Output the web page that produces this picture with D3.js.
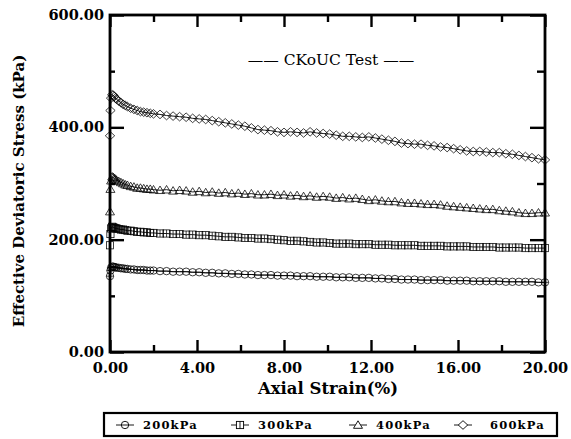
<!DOCTYPE html>
<html>
<head>
<meta charset="utf-8">
<script src="https://cdn.jsdelivr.net/npm/d3@7"></script>
<style>
  body { margin: 0; background: #fff; }
  svg { display: block; }
  .tick-label text { font-family: "DejaVu Serif", serif; font-weight: bold; font-size: 14.5px; fill: #000; }
  .axis-title { font-family: "DejaVu Serif", serif; font-weight: bold; fill: #000; }
</style>
</head>
<body>
<div id="chart"></div>
<script>
// strain (%) sampled along every curve
const strain = [
  0, 0.02, 0.05, 0.1, 0.15, 0.2, 0.25, 0.3, 0.4, 0.5,
  0.6, 0.7, 0.8, 0.95, 1.1, 1.25, 1.4, 1.55, 1.7, 1.85,
  2.0, 2.3, 2.6, 2.9, 3.2, 3.5, 3.8, 4.1, 4.4, 4.7,
  5.0, 5.3, 5.6, 5.9, 6.2, 6.5, 6.8, 7.1, 7.4, 7.7,
  8.0, 8.3, 8.6, 8.9, 9.2, 9.5, 9.8, 10.1, 10.4, 10.7,
  11.0, 11.3, 11.6, 11.9, 12.2, 12.5, 12.8, 13.1, 13.4, 13.7,
  14.0, 14.3, 14.6, 14.9, 15.2, 15.5, 15.8, 16.1, 16.4, 16.7,
  17.0, 17.3, 17.6, 17.9, 18.2, 18.5, 18.8, 19.1, 19.4, 19.7,
  20.0
];

const q200 = [
  135, 145, 150, 152, 152, 151, 151, 150, 150, 149,
  149, 148, 148, 147, 147, 146, 146, 146, 145, 145,
  145, 144, 144, 143, 143, 143, 142, 142, 141, 141,
  140, 140, 139, 139, 138, 138, 137, 137, 137, 136,
  136, 136, 135, 135, 135, 134, 134, 134, 133, 133,
  133, 132, 132, 132, 131, 131, 130, 130, 129, 129,
  129, 128, 128, 128, 128, 127, 127, 127, 127, 126,
  126, 126, 126, 126, 125, 125, 125, 125, 125, 124,
  124
];

const q300 = [
  190, 210, 220, 223, 222, 221, 220, 220, 219, 218,
  218, 217, 216, 216, 215, 214, 214, 213, 213, 212,
  212, 211, 211, 210, 210, 209, 209, 208, 208, 207,
  206, 205, 205, 204, 203, 203, 202, 202, 201, 200,
  199, 198, 198, 197, 196, 195, 195, 194, 193, 193,
  193, 192, 192, 192, 191, 191, 191, 190, 190, 190,
  190, 189, 189, 189, 189, 188, 188, 188, 188, 187,
  187, 187, 187, 186, 186, 186, 186, 185, 185, 185,
  185
];

const q400 = [
  250, 290, 305, 312, 311, 309, 308, 306, 304, 302,
  300, 298, 297, 295, 294, 292, 292, 291, 290, 290,
  289, 288, 289, 287, 288, 287, 285, 286, 284, 285,
  283, 284, 282, 283, 281, 282, 280, 280, 281, 279,
  280, 278, 279, 277, 278, 276, 277, 276, 274, 275,
  273, 274, 272, 270, 271, 269, 268, 268, 266, 265,
  265, 264, 263, 263, 262, 260, 259, 258, 257, 256,
  255, 254, 254, 252, 251, 250, 248, 247, 247, 248,
  248
];

const q600 = [
  385, 430, 452, 458, 457, 455, 452, 450, 447, 444,
  441, 439, 437, 434, 432, 430, 428, 427, 426, 425,
  424, 423, 421, 420, 419, 418, 416, 415, 414, 412,
  410, 408, 406, 404, 402, 399, 396, 395, 394, 392,
  391, 392, 391, 390, 392, 390, 389, 388, 386, 384,
  384, 383, 382, 383, 381, 379, 377, 375, 372, 371,
  370, 370, 368, 367, 365, 364, 362, 360, 358, 357,
  357, 356, 355, 355, 353, 352, 350, 348, 346, 344,
  342
];

const seriesNames = ['200kPa', '300kPa', '400kPa', '600kPa'];
const seriesValues = [q200, q300, q400, q600];
const seriesSymbols = ['circle', 'square', 'triangle', 'diamond'];

const xMajorTicks = [0, 4, 8, 12, 16, 20];
const xMinorTicks = [2, 6, 10, 14, 18];
const yMajorTicks = [0, 200, 400, 600];
const yMinorTicks = [100, 300, 500];

const width = 571, height = 439;
const margin = {top: 15, right: 26, bottom: 87, left: 110};
const w = width - margin.left - margin.right;
const h = height - margin.top - margin.bottom;

const svg = d3.select('#chart').append('svg')
  .attr('width', width)
  .attr('height', height);

const chart = svg.append('g')
  .attr('transform', `translate(${margin.left},${margin.top})`);

const x = d3.scaleLinear().domain([0, 20]).range([0, w]);
const y = d3.scaleLinear().domain([0, 600]).range([h, 0]);

// marker shapes drawn as open outlines
function marker(sel, type) {
  if (type === 'circle') {
    sel.append('circle').attr('r', 3.7);
    sel.append('line').attr('x1', -3.7).attr('x2', 3.7);
  } else if (type === 'square') {
    sel.append('rect').attr('x', -3.6).attr('y', -3.6).attr('width', 7.2).attr('height', 7.2);
    sel.append('line').attr('y1', -3.6).attr('y2', 3.6);
  } else if (type === 'triangle') {
    sel.append('path').attr('d', 'M0,-4.2L4.5,3.3L-4.5,3.3Z');
  } else {
    sel.append('path').attr('d', 'M0,-4.3L4.7,0L0,4.3L-4.7,0Z');
  }
}

// curves
seriesValues.forEach((vals, i) => {
  const pts = strain.map((s, j) => ({s: s, q: vals[j]}));
  const g = chart.append('g')
    .attr('fill', 'none')
    .attr('stroke', '#000');

  g.append('path')
    .datum(pts)
    .attr('stroke-width', 0.9)
    .attr('d', d3.line().x(d => x(d.s)).y(d => y(d.q)));

  g.selectAll('g.pt')
    .data(pts)
    .join('g')
    .attr('class', 'pt')
    .attr('stroke-width', 0.75)
    .attr('transform', d => `translate(${x(d.s)},${y(d.q)})`)
    .each(function() { marker(d3.select(this), seriesSymbols[i]); });
});

// axes: ticks point inwards on all four sides
const fmt = d3.format('.2f');

function styleAxis(g) {
  g.select('.domain').remove();
  g.selectAll('.tick line').attr('stroke', '#000').attr('stroke-width', 2.4);
}

chart.append('g')
  .attr('class', 'tick-label')
  .attr('transform', `translate(0,${h})`)
  .call(d3.axisBottom(x).tickValues(xMajorTicks).tickSize(-12).tickPadding(11).tickFormat(fmt))
  .call(styleAxis)
  .call(g => g.selectAll('text').attr('font-family', null).attr('font-size', null));

chart.append('g')
  .attr('transform', `translate(0,${h})`)
  .call(d3.axisBottom(x).tickValues(xMinorTicks).tickSize(-7).tickFormat(''))
  .call(styleAxis);

chart.append('g')
  .call(d3.axisTop(x).tickValues(xMajorTicks).tickSize(-12).tickFormat(''))
  .call(styleAxis);

chart.append('g')
  .call(d3.axisTop(x).tickValues(xMinorTicks).tickSize(-7).tickFormat(''))
  .call(styleAxis);

chart.append('g')
  .attr('class', 'tick-label')
  .call(d3.axisLeft(y).tickValues(yMajorTicks).tickSize(-14).tickPadding(6).tickFormat(fmt))
  .call(styleAxis)
  .call(g => g.selectAll('text').attr('font-family', null).attr('font-size', null));

chart.append('g')
  .call(d3.axisLeft(y).tickValues(yMinorTicks).tickSize(-5).tickFormat(''))
  .call(styleAxis);

chart.append('g')
  .attr('transform', `translate(${w},0)`)
  .call(d3.axisRight(y).tickValues(yMajorTicks).tickSize(-15).tickFormat(''))
  .call(styleAxis);

chart.append('g')
  .attr('transform', `translate(${w},0)`)
  .call(d3.axisRight(y).tickValues(yMinorTicks).tickSize(-8).tickFormat(''))
  .call(styleAxis);

// frame
chart.append('rect')
  .attr('width', w)
  .attr('height', h)
  .attr('fill', 'none')
  .attr('stroke', '#000')
  .attr('stroke-width', 2.8);

// titles
chart.append('text')
  .attr('x', 221)
  .attr('y', 46)
  .attr('text-anchor', 'middle')
  .attr('dominant-baseline', 'middle')
  .style('font-family', '"DejaVu Serif", serif')
  .style('font-size', '15.5px')
  .text('—— CKoUC Test ——');

svg.append('text')
  .attr('class', 'axis-title')
  .attr('x', 328)
  .attr('y', 394)
  .attr('text-anchor', 'middle')
  .style('font-size', '16.5px')
  .text('Axial Strain(%)');

svg.append('text')
  .attr('class', 'axis-title')
  .attr('transform', 'translate(24,191) rotate(-90)')
  .attr('text-anchor', 'middle')
  .style('font-size', '15px')
  .text('Effective Deviatoric Stress (kPa)');

// legend
const legend = svg.append('g');
legend.append('rect')
  .attr('x', 104).attr('y', 413)
  .attr('width', 453).attr('height', 23)
  .attr('fill', '#fff')
  .attr('stroke', '#000')
  .attr('stroke-width', 2.2);

const legendX = [125, 240, 358, 463];
seriesNames.forEach((name, i) => {
  const item = legend.append('g')
    .attr('transform', `translate(${legendX[i]},425)`);
  item.append('line')
    .attr('x1', -9).attr('x2', 9)
    .attr('stroke', '#000').attr('stroke-width', 0.9);
  const m = item.append('g').attr('fill', '#fff').attr('stroke', '#000').attr('stroke-width', 0.9);
  marker(m, seriesSymbols[i]);
  item.append('text')
    .attr('x', i === 3 ? 27 : 18)
    .attr('dy', '0.35em')
    .style('font-family', '"DejaVu Serif", serif')
    .style('font-weight', 'bold')
    .style('font-size', '11.5px')
    .style('letter-spacing', '1.2px')
    .text(name);
});
</script>
</body>
</html>
